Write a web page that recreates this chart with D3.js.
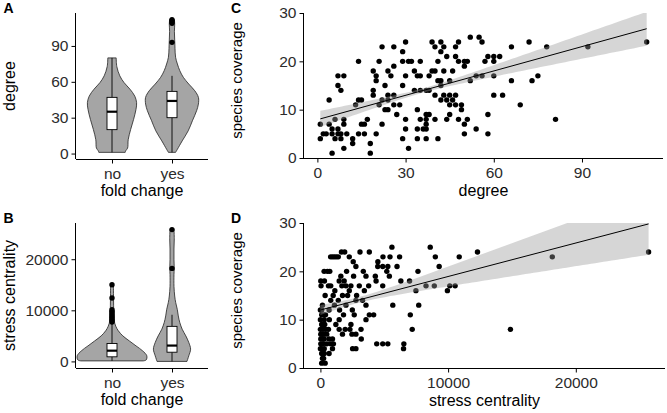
<!DOCTYPE html>
<html><head><meta charset="utf-8">
<script src="https://cdn.jsdelivr.net/npm/d3@7"></script>
<style>
body{margin:0;background:#fff}
text{font-family:"Liberation Sans",Arial,Helvetica,sans-serif}
</style>
</head><body>
<svg id="chart" width="667" height="413"></svg>
<script>
// ---------------- DATA ----------------
const foldCats = ["no", "yes"];

// Violin profiles (value, half-width as fraction of category step)
const degNoVals  = [1, 2.4, 4.6, 11.6, 20, 28.6, 37, 42.6, 48, 53.8, 59.4, 65, 72.8, 80];
const degNoDens  = [0.22, 0.23, 0.26, 0.27, 0.31, 0.36, 0.40, 0.41, 0.38, 0.30, 0.20, 0.13, 0.08, 0.07];
const degYesVals = [1, 3.6, 10.6, 19, 27.4, 35.8, 41.4, 47, 52.5, 58.1, 63.7, 69.3, 74.9, 80.5, 88, 95, 102, 108, 112];
const degYesDens = [0.06, 0.09, 0.17, 0.27, 0.34, 0.41, 0.44, 0.44, 0.38, 0.28, 0.19, 0.13, 0.09, 0.06, 0.05, 0.045, 0.04, 0.045, 0.04];

const strNoVals  = [100, 300, 1100, 2070, 3040, 4000, 5000, 6000, 6900, 7900, 9000, 11000, 13000, 15000];
const strNoDens  = [0.52, 0.57, 0.58, 0.51, 0.40, 0.29, 0.18, 0.105, 0.062, 0.038, 0.03, 0.027, 0.025, 0.025];
const strYesVals = [0, 1100, 2400, 3700, 5000, 6300, 7600, 8900, 10200, 11500, 12800, 14700, 17000, 18200, 20000, 22000, 24000, 25800];
const strYesDens = [0.25, 0.28, 0.31, 0.28, 0.23, 0.17, 0.13, 0.105, 0.088, 0.062, 0.045, 0.033, 0.033, 0.037, 0.033, 0.033, 0.038, 0.033];

// Boxplot stats [no, yes]
const degLo  = [1, 1],   degQ1 = [20, 30],   degMed = [35, 44],   degQ3 = [47, 52],   degHi = [80, 65];
const degOutNo = [], degOutYes = [93, 109, 110, 111, 112];
const strLo  = [100, 0], strQ1 = [900, 1800], strMed = [2100, 3100], strQ3 = [3500, 6860], strHi = [7500, 9130];
const strOutNo = [7700, 8000, 8300, 8600, 8900, 9200, 9500, 9800, 10100, 12400, 15000];
const strOutYes = [18200, 25800];

// Scatter C: [degree, species coverage]
const scatterC = [
 [52,25],[55,25],
 [30,24],[39,24],[42,24],[48,24],[56,24],[72,24],[112,24],
 [22,23],[26,23],[40,23],[43,23],[47,23],[66,23],[78,23],[92,23],
 [29,22],[42,22],
 [44,21],[47,21],[58,21],[60,21],[62,21],
 [14,20],[21,20],[29,20],[31,20],[32,20],[35,20],[41,20],[48,20],[50,20],[51,20],[57,20],[60,20],
 [26,19],[50,19],
 [19,18],[24,18],[33,18],[39,18],[40,18],[43,18],[46,18],
 [7,17],[9,17],[20,17],[25,17],[30,17],[34,17],[35,17],[38,17],[54,17],[56,17],[60,17],[75,17],
 [20,16],[41,16],[42,16],[45,16],[52,16],[66,16],[73,16],
 [7,15],[23,15],[29,15],[42,15],
 [8,14],[19,14],[33,14],[35,14],[37,14],[38,14],
 [19,13],[24,13],[26,13],[40,13],[43,13],[45,13],[47,13],[60,13],[63,13],
 [4,12],[14,12],[15,12],[22,12],[24,12],[42,12],[44,12],[46,12],
 [13,11],[21,11],[26,11],[28,11],[45,11],[47,11],[49,11],[69,11],
 [23,10],[24,10],[34,10],[49,10],
 [27,9],[37,9],[38,9],[45,9],[58,9],
 [6,8],[9,8],[17,8],[30,8],[35,8],[37,8],[40,8],[44,8],[48,8],[51,8],[81,8],
 [1,7],[4,7],[9,7],[15,7],[16,7],[22,7],[37,7],[50,7],
 [5,6],[7,6],[30,6],[34,6],[36,6],[37,6],[54,6],
 [2,5],[3,5],[5,5],[7,5],[8,5],[10,5],[14,5],[16,5],[20,5],[50,5],[58,5],
 [1,4],[6,4],[8,4],[12,4],[29,4],[34,4],[37,4],[41,4],
 [12,3],[18,3],[9,2],[31,2],[5,1],[18,1]
];

// Scatter D: [stress centrality, species coverage]
const scatterD = [
 [5600,25],[8600,25],
 [1650,24],[1900,24],[3100,24],[3830,24],[12300,24],[25700,24],
 [800,23],[950,23],[1100,23],[1250,23],[1400,23],[2260,23],[4900,23],[5450,23],[6200,23],[9000,23],[10870,23],[18160,23],
 [2570,22],[4500,22],
 [2780,21],[4490,21],[4880,21],[5280,21],[6000,21],[9300,21],
 [290,20],[550,20],[735,20],[2050,20],[3360,20],[5200,20],[7640,20],
 [1600,19],[2600,19],[3570,19],[4300,19],[5400,19],
 [30,18],[315,18],[1470,18],[1860,18],[4360,18],[6300,18],[6980,18],
 [50,17],[630,17],[810,17],[1680,17],[2000,17],[2390,17],[3045,17],[3780,17],[4880,17],[8270,17],[8920,17],[10130,17],[10550,17],
 [1130,16],[2260,16],[3440,16],[7480,16],[9945,16],
 [370,15],[1000,15],[1730,15],[2130,15],[2835,15],
 [810,14],[1400,14],[2780,14],[3300,14],
 [160,13],[1100,13],[2000,13],[3570,13],[5670,13],[7700,13],
 [0,12],[100,12],[680,12],[1500,12],[2500,12],
 [100,11],[290,11],[400,11],[1810,11],[2650,11],[3830,11],[4170,11],[7040,11],
 [0,10],[300,10],[700,10],[1470,10],[3570,10],
 [100,9],[160,9],[340,9],[1210,9],[2390,9],
 [0,8],[200,8],[400,8],[630,8],[1470,8],[1940,8],[2310,8],[3180,8],[7190,8],[14880,8],
 [30,7],[100,7],[260,7],[500,7],[1730,7],[2470,7],[2780,7],
 [30,6],[210,6],[300,6],[680,6],[945,6],[3200,6],
 [30,5],[200,5],[500,5],[810,5],[1020,5],[4410,5],[4880,5],[5280,5],[6535,5],
 [0,4],[100,4],[300,4],[945,4],[2520,4],[2780,4],[6510,4],
 [100,3],[300,3],[680,3],[160,2],[250,2],[100,1],[370,1]
];

// Linear fit: [intercept, slope], CI band [centre x, half-width at centre, growth]
const fitC = [7.93, 0.168],     bandC = [36, 0.45, 0.0458];
const fitD = [12.0, 0.000693],  bandD = [3000, 0.6, 0.00028];

const ticksDegree = [0, 30, 60, 90];
const ticksStress = [0, 10000, 20000];
const ticksCoverage = [0, 10, 20, 30];

// ---------------- DRAWING ----------------
const svg = d3.select("#chart");
const FONT_TICK = "15.5px", FONT_TITLE = "16px";
const violinFill = "#a5a5a5", lineCol = "#222";

function expandExtent(arr) {
  const [lo, hi] = d3.extent(arr);
  const p = (hi - lo) * 0.05;
  return [lo - p, hi + p];
}

function styleAxis(g) {
  g.select(".domain").attr("stroke", "#000").attr("stroke-width", 1);
  g.selectAll(".tick line").attr("stroke", "#000").attr("stroke-width", 1);
  g.selectAll(".tick text").attr("fill", "#2b2b2b").style("font-size", FONT_TICK);
}

function label(x, y, txt, rot, size, weight) {
  const t = svg.append("text").attr("font-size", size || FONT_TITLE)
    .attr("fill", "#000").attr("text-anchor", "middle").text(txt);
  if (weight) t.attr("font-weight", weight);
  if (rot) t.attr("transform", `translate(${x},${y}) rotate(-90)`);
  else t.attr("x", x).attr("y", y);
  return t;
}

function violinPanel(opts) {
  const { x0, x1, yTop, yBot, vals, dens, lo, q1, med, q3, hi, outs, ticks, ytitle, letter, letterY } = opts;
  const allVals = vals.flat();
  const x = d3.scalePoint().domain(foldCats).range([x0, x1]).padding(0.6);
  const y = d3.scaleLinear().domain(expandExtent(allVals)).range([yBot, yTop]);
  const step = x.step();
  const g = svg.append("g");

  foldCats.forEach((c, i) => {
    const cx = x(c);
    const pts = vals[i].map((v, k) => [v, dens[i][k]]);
    const area = d3.area().curve(d3.curveCatmullRom.alpha(0.5))
      .y(d => y(d[0])).x0(d => cx - d[1] * step).x1(d => cx + d[1] * step);
    g.append("path").attr("d", area(pts)).attr("fill", violinFill)
      .attr("stroke", lineCol).attr("stroke-width", 0.8);
    g.append("line").attr("x1", cx).attr("x2", cx).attr("y1", y(hi[i])).attr("y2", y(q3[i]))
      .attr("stroke", "#000").attr("stroke-width", 0.9);
    g.append("line").attr("x1", cx).attr("x2", cx).attr("y1", y(q1[i])).attr("y2", y(lo[i]))
      .attr("stroke", "#000").attr("stroke-width", 0.9);
    const bw = step / 6;
    g.append("rect").attr("x", cx - bw / 2).attr("width", bw)
      .attr("y", y(q3[i])).attr("height", y(q1[i]) - y(q3[i]))
      .attr("fill", "#fff").attr("stroke", "#000").attr("stroke-width", 0.9);
    g.append("line").attr("x1", cx - bw / 2).attr("x2", cx + bw / 2)
      .attr("y1", y(med[i])).attr("y2", y(med[i])).attr("stroke", "#000").attr("stroke-width", 2.2);
    g.selectAll(null).data(outs[i]).enter().append("circle")
      .attr("cx", cx).attr("cy", d => y(d)).attr("r", 2.7).attr("fill", "#000");
  });

  const ax = svg.append("g").attr("transform", `translate(0,${yBot})`)
    .call(d3.axisBottom(x).tickSize(4.5).tickSizeOuter(0).tickPadding(4.5));
  styleAxis(ax);
  const ay = svg.append("g").attr("transform", `translate(${x0},0)`)
    .call(d3.axisLeft(y).tickValues(ticks).tickFormat(d3.format("d")).tickSize(4.5).tickSizeOuter(0).tickPadding(3));
  styleAxis(ay);
  ax.select(".domain").attr("d", `M${x0},0.5H${x1}`);
  ay.select(".domain").attr("d", `M-0.5,${yTop}V${yBot}`);

  label((x0 + x1) / 2, yBot + 37, "fold change");
  label(15, (yTop + yBot) / 2, ytitle, true);
  label(8.5, letterY, letter, false, "14px", "bold");
}

function scatterPanel(opts) {
  const { x0, x1, yTop, yBot, pts, fit, band, xticks, xtitle, letter, letterY, id } = opts;
  const xs = pts.map(d => d[0]);
  const x = d3.scaleLinear().domain(expandExtent(xs)).range([x0, x1]);
  const y = d3.scaleLinear().domain([0, 30]).range([yBot, yTop]);
  const g = svg.append("g");

  svg.append("clipPath").attr("id", id).append("rect")
    .attr("x", x0).attr("y", yTop).attr("width", x1 - x0).attr("height", yBot - yTop);

  g.selectAll("circle").data(pts).enter().append("circle")
    .attr("cx", d => x(d[0])).attr("cy", d => y(d[1])).attr("r", 2.7).attr("fill", "#000");

  const [xmin, xmax] = d3.extent(xs);
  const line = v => fit[0] + fit[1] * v;
  const hw = v => Math.sqrt(band[1] * band[1] + Math.pow(band[2] * (v - band[0]), 2));
  const samples = d3.range(0, 81).map(k => xmin + (xmax - xmin) * k / 80);
  const bandArea = d3.area().x(v => x(v)).y0(v => y(line(v) - hw(v))).y1(v => y(line(v) + hw(v)));
  g.append("path").attr("d", bandArea(samples)).attr("fill", "#999999").attr("fill-opacity", 0.4)
    .attr("clip-path", `url(#${id})`);
  g.append("line").attr("x1", x(xmin)).attr("x2", x(xmax)).attr("y1", y(line(xmin))).attr("y2", y(line(xmax)))
    .attr("stroke", "#000").attr("stroke-width", 1).attr("clip-path", `url(#${id})`);

  const ax = svg.append("g").attr("transform", `translate(0,${yBot})`)
    .call(d3.axisBottom(x).tickValues(xticks).tickFormat(d3.format("d")).tickSize(4.5).tickSizeOuter(0).tickPadding(4.5));
  styleAxis(ax);
  const ay = svg.append("g").attr("transform", `translate(${x0},0)`)
    .call(d3.axisLeft(y).tickValues(ticksCoverage).tickFormat(d3.format("d")).tickSize(4.5).tickSizeOuter(0).tickPadding(3));
  styleAxis(ay);
  ax.select(".domain").attr("d", `M${x0},0.5H${x1}`);
  ay.select(".domain").attr("d", `M-0.5,${yTop}V${yBot}`);

  label((x0 + x1) / 2, yBot + 38, xtitle);
  label(242, (yTop + yBot) / 2 - 5, "species coverage", true, "15px");
  label(236, letterY, letter, false, "14px", "bold");
}

violinPanel({ x0: 76, x1: 208, yTop: 13, yBot: 159,
  vals: [degNoVals, degYesVals], dens: [degNoDens, degYesDens],
  lo: degLo, q1: degQ1, med: degMed, q3: degQ3, hi: degHi, outs: [degOutNo, degOutYes],
  ticks: ticksDegree, ytitle: "degree", letter: "A", letterY: 13 });

violinPanel({ x0: 76, x1: 208, yTop: 223, yBot: 368,
  vals: [strNoVals, strYesVals], dens: [strNoDens, strYesDens],
  lo: strLo, q1: strQ1, med: strMed, q3: strQ3, hi: strHi, outs: [strOutNo, strOutYes],
  ticks: ticksStress, ytitle: "stress centrality", letter: "B", letterY: 223 });

scatterPanel({ x0: 304, x1: 663, yTop: 13, yBot: 158, pts: scatterC, fit: fitC, band: bandC,
  xticks: ticksDegree, xtitle: "degree", letter: "C", letterY: 13, id: "clipC" });

scatterPanel({ x0: 304, x1: 665, yTop: 223, yBot: 368, pts: scatterD, fit: fitD, band: bandD,
  xticks: ticksStress, xtitle: "stress centrality", letter: "D", letterY: 223, id: "clipD" });
</script>
</body></html>
